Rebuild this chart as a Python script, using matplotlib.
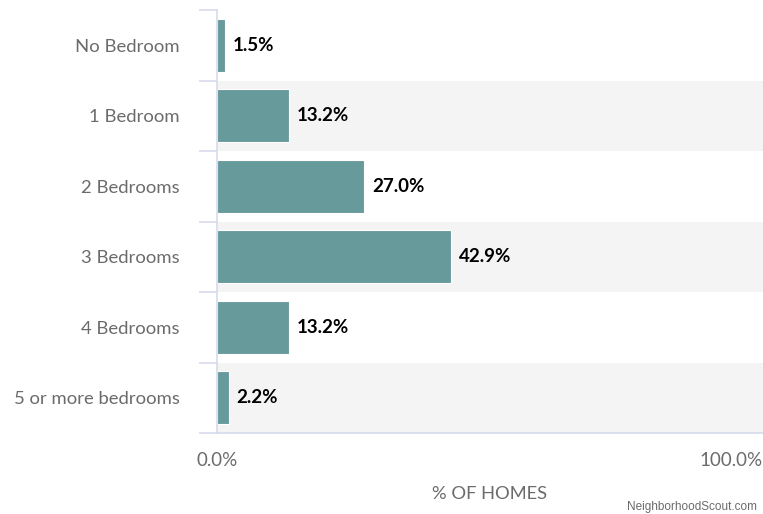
import matplotlib.pyplot as plt

categories = ["No Bedroom", "1 Bedroom", "2 Bedrooms", "3 Bedrooms",
              "4 Bedrooms", "5 or more bedrooms"]
shares = [1.5, 13.2, 27.0, 42.9, 13.2, 2.2]
x_ticks = [0, 100]
x_tick_labels = ["0.0%", "100.0%"]

bar_color = "#679a9b"
band_color = "#f4f4f4"
line_color = "#d5daec"
text_gray = "#6b6b6b"

plt.rcParams["font.family"] = ["Lato", "DejaVu Sans"]

fig = plt.figure(figsize=(7.63, 5.14), dpi=100)
ax = fig.add_axes([217 / 763, 1 - 433 / 514, 546 / 763, 423 / 514])

n = len(categories)
ypos = list(range(n))

# alternating background bands
for i in ypos:
    if i % 2 == 1:
        ax.axhspan(i - 0.5, i + 0.5, color=band_color, zorder=0, lw=0)

ax.barh(ypos, shares, height=0.75, color=bar_color, edgecolor="white",
        linewidth=0.8, zorder=2)

for y, v in zip(ypos, shares):
    ax.text(v + 1.4, y, f"{v:.1f}%", va="center", ha="left",
            fontsize=13.5, fontweight="bold", color="black", zorder=3)

ax.set_xlim(0, 100)
ax.set_ylim(n - 0.5, -0.5)

# row separators as long ticks, category names on minor ticks
ax.set_yticks([i + 0.5 for i in range(-1, n)], minor=False)
ax.set_yticklabels([])
ax.tick_params(axis="y", which="major", length=13, width=1.2, color=line_color)
ax.set_yticks(ypos, minor=True)
ax.set_yticklabels(categories, minor=True)
ax.tick_params(axis="y", which="minor", length=0, pad=27, labelsize=13.3,
               labelcolor=text_gray)

ax.set_xticks(x_ticks)
ax.set_xticklabels(x_tick_labels)
ax.tick_params(axis="x", length=0, pad=14, labelsize=13.5, labelcolor=text_gray)
xt = ax.get_xticklabels()
xt[-1].set_horizontalalignment("right")

ax.set_xlabel("% OF HOMES", fontsize=13.2, color=text_gray, labelpad=12)

for side in ["top", "right"]:
    ax.spines[side].set_visible(False)
for side in ["left", "bottom"]:
    ax.spines[side].set_color(line_color)
    ax.spines[side].set_linewidth(1.2)

fig.text(757 / 763, 1 - 507 / 514, "NeighborhoodScout.com", ha="right",
         va="center", fontsize=8.5, color=text_gray,
         family=["Liberation Sans", "DejaVu Sans"])

fig.savefig("out.png", dpi=100)
